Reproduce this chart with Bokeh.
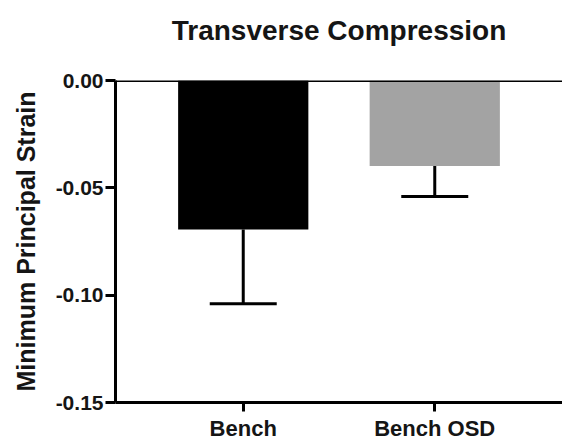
from bokeh.plotting import figure
from bokeh.models import (FactorRange, Range1d, Span, Whisker, ColumnDataSource, TeeHead,
                          FixedTicker, Title)
from bokeh.embed import file_html
from bokeh.resources import INLINE

categories = ["Bench", "Bench OSD"]
means = [-0.0694, -0.0398]
errors = [0.0346, 0.0142]
colors = ["#000000", "#a3a3a3"]
y_ticks = [0.0, -0.05, -0.10, -0.15]
y_tick_labels = ["0.00", "-0.05", "-0.10", "-0.15"]
title_text = "Transverse Compression"

FONT = "Liberation Sans"

lower = [m - e for m, e in zip(means, errors)]
src = ColumnDataSource(dict(cat=categories, top=[0.0] * len(means), bottom=means,
                            lower=lower, color=colors))

p = figure(width=562, height=443, output_backend="svg", toolbar_location=None,
           x_range=FactorRange(factors=categories, range_padding=0.167,
                               range_padding_units="absolute"),
           y_range=Range1d(-0.15, 0.0),
           title=None,
           min_border_left=115, min_border_right=0, min_border_top=80, min_border_bottom=39)

p.vbar(x="cat", top="top", bottom="bottom", width=0.68, color="color", line_color=None, source=src)

wh = Whisker(base="cat", upper="bottom", lower="lower", source=src,
             line_color="black", line_width=3,
             lower_head=TeeHead(size=67, line_color="black", line_width=3),
             upper_head=None)
p.add_layout(wh)

p.add_layout(Span(location=0.0, dimension="width", line_color="black", line_width=3))

spacer = Title(text=" ", text_font_size="1px", standoff=27)
main_title = Title(text=title_text, align="center", text_font=FONT, text_font_size="28px",
                   text_font_style="bold", text_color="#151515", standoff=10)
p.add_layout(spacer, "above")
p.add_layout(main_title, "above")

p.grid.visible = False
p.outline_line_color = None
p.background_fill_color = "white"
p.border_fill_color = "white"

ya = p.yaxis[0]
ya.ticker = FixedTicker(ticks=y_ticks)
ya.major_label_overrides = {t: l for t, l in zip(y_ticks, y_tick_labels)}
ya.axis_label = "Minimum Principal Strain"
ya.axis_label_text_font = FONT
ya.axis_label_text_font_style = "bold"
ya.axis_label_text_font_size = "25px"
ya.axis_label_text_color = "#151515"
ya.axis_label_standoff = 13
ya.major_label_text_font = FONT
ya.major_label_text_font_style = "bold"
ya.major_label_text_font_size = "21px"
ya.major_label_text_color = "#151515"
ya.major_label_standoff = 2
ya.axis_line_width = 3
ya.major_tick_line_width = 3
ya.major_tick_out = 10
ya.major_tick_in = 0
ya.minor_tick_line_color = None

xa = p.xaxis[0]
xa.major_label_text_font = FONT
xa.major_label_text_font_style = "bold"
xa.major_label_text_font_size = "22px"
xa.major_label_text_color = "#151515"
xa.major_label_standoff = 4
xa.axis_line_width = 3
xa.major_tick_line_width = 3
xa.major_tick_out = 9
xa.major_tick_in = 0
xa.minor_tick_line_color = None

open("out.html", "w").write(file_html(p, INLINE))
